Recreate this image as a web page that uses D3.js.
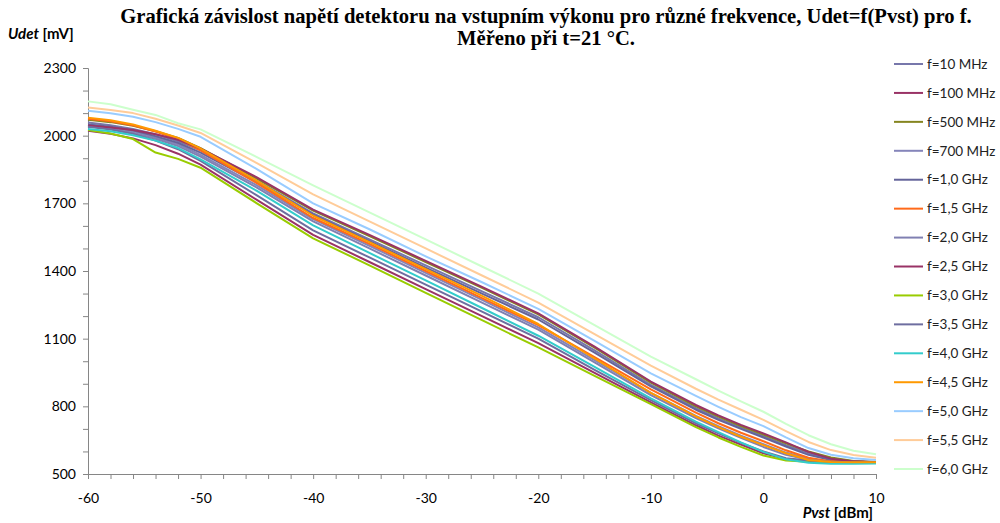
<!DOCTYPE html>
<html><head><meta charset="utf-8">
<script src="https://cdn.jsdelivr.net/npm/d3@7"></script>
<style>body{margin:0;background:#fff}svg{display:block}</style>
</head><body>
<script>
const xValues = [-60,-58,-56,-54,-52,-50,-45,-40,-35,-30,-25,-20,-15,-10,-6,-4,-2,0,2,4,6,8,10];
const seriesNames = ["f=10 MHz","f=100 MHz","f=500 MHz","f=700 MHz","f=1,0 GHz","f=1,5 GHz","f=2,0 GHz","f=2,5 GHz","f=3,0 GHz","f=3,5 GHz","f=4,0 GHz","f=4,5 GHz","f=5,0 GHz","f=5,5 GHz","f=6,0 GHz"];
const seriesColors = ["#7777ab","#993366","#858520","#8585ba","#64649a","#ff6a1a","#8080b2","#993366","#99cc00","#6e6ea0","#33cccc","#ff9900","#99ccff","#ffcc99","#ccffcc"];
const s10M  = [2058,2046,2030,2006,1975,1935,1800,1655,1540,1425,1310,1195,1048,895,792,746,705,668,628,592,566,556,552];
const s100M = [2022,2008,1988,1958,1920,1872,1715,1560,1440,1320,1200,1080,948,818,716,670,630,592,566,556,552,550,550];
const s500M = [2070,2060,2044,2020,1990,1945,1810,1668,1555,1440,1325,1208,1060,905,800,755,712,675,636,600,573,558,553];
const s700M = [2048,2037,2020,1993,1962,1915,1780,1630,1512,1392,1272,1150,1005,860,758,712,670,632,595,568,556,552,551];
const s1G0  = [2050,2040,2024,1998,1968,1925,1793,1650,1532,1415,1300,1185,1038,888,785,740,700,662,622,585,562,554,552];
const s1G5  = [2075,2064,2046,2018,1985,1935,1790,1635,1520,1400,1280,1160,1018,875,772,725,683,645,605,572,556,553,552];
const s2G0  = [2042,2031,2013,1986,1954,1907,1770,1620,1500,1380,1260,1140,995,850,748,702,660,620,585,563,553,551,550];
const s2G5  = [2045,2036,2025,2006,1982,1943,1815,1672,1560,1445,1330,1212,1065,910,806,760,718,680,640,598,568,556,553];
const s3G0  = [2025,2010,1985,1925,1897,1858,1700,1545,1425,1303,1182,1061,935,810,708,662,620,582,560,554,551,550,550];
const s3G5  = [2040,2027,2008,1978,1940,1888,1735,1580,1460,1340,1220,1100,962,828,725,680,638,600,570,560,553,551,550];
const s4G0  = [2030,2020,2002,1978,1945,1895,1755,1602,1480,1358,1236,1113,975,835,732,686,640,598,565,550,545,545,546];
const s4G5  = [2080,2068,2050,2022,1990,1943,1800,1645,1528,1408,1290,1165,1012,860,755,708,665,628,592,562,553,552,552];
const s5G0  = [2110,2099,2084,2060,2030,1995,1852,1700,1585,1465,1350,1232,1090,946,846,798,752,712,662,615,585,570,562];
const s5G5  = [2125,2114,2100,2075,2045,2012,1878,1740,1620,1500,1380,1260,1120,980,878,830,785,740,690,642,606,584,572];
const s6G0  = [2152,2139,2115,2092,2055,2028,1905,1780,1660,1540,1420,1300,1160,1020,920,870,822,776,722,672,632,603,588];
const seriesValues = [s10M,s100M,s500M,s700M,s1G0,s1G5,s2G0,s2G5,s3G0,s3G5,s4G0,s4G5,s5G0,s5G5,s6G0];
const yTicks = [500,800,1100,1400,1700,2000,2300];
const xTicks = [-60,-50,-40,-30,-20,-10,0,10];
const titleLines = ["Grafická závislost napětí detektoru na vstupním výkonu pro různé frekvence, Udet=f(Pvst) pro f.","Měřeno při t=21 °C."];

const W=1000,H=523;
const svg=d3.select("body").append("svg").attr("width",W).attr("height",H);
const x=d3.scaleLinear().domain([-60,10]).range([88,876]);
const y=d3.scaleLinear().domain([500,2300]).range([474,68]);
const axisColor="#868686";
const sans="Lato, 'Open Sans', sans-serif";

// title
svg.append("g").selectAll("text").data(titleLines).join("text")
  .attr("x",546).attr("y",(d,i)=>23+i*22).attr("text-anchor","middle")
  .attr("font-family","'Liberation Serif', serif").attr("font-weight","bold").attr("font-size",20.6)
  .attr("fill","#000").text(d=>d);

// axes
const yAxis=d3.axisLeft(y).tickValues(d3.range(500,2301,100)).tickSize(5).tickFormat(d=>yTicks.includes(d)?d:"");
const gy=svg.append("g").attr("transform","translate(88,0)").call(yAxis);
const xAxis=d3.axisBottom(x).tickValues(d3.range(-60,11,2)).tickSize(5).tickFormat(d=>xTicks.includes(d)?d:"");
const gx=svg.append("g").attr("transform","translate(0,474)").call(xAxis);
[gx,gy].forEach(g=>{
  g.select(".domain").attr("stroke",axisColor);
  g.selectAll(".tick line").attr("stroke",axisColor);
  g.selectAll(".tick text").attr("font-family",sans).attr("font-size",14).attr("fill","#000");
});
gy.selectAll(".tick text").attr("x",-12);
gx.selectAll(".tick text").attr("y",19);

// lines
const line=d3.line().x((d,i)=>x(xValues[i])).y(d=>y(d));
svg.append("g").selectAll("path").data(seriesValues).join("path")
  .attr("d",line).attr("fill","none").attr("stroke",(d,i)=>seriesColors[i])
  .attr("stroke-width",2).attr("stroke-linejoin","round");

// axis titles
const yt=svg.append("text").attr("x",8).attr("y",39).attr("font-family",sans).attr("font-size",15).attr("font-weight","bold").attr("fill","#000");
yt.append("tspan").attr("font-style","italic").text("Udet");
yt.append("tspan").text(" [mV]");
const xt=svg.append("text").attr("x",873).attr("y",518).attr("text-anchor","end").attr("font-family",sans).attr("font-size",15).attr("font-weight","bold").attr("fill","#000");
xt.append("tspan").attr("font-style","italic").text("Pvst");
xt.append("tspan").text(" [dBm]");

// legend
const lg=svg.append("g").selectAll("g").data(seriesNames).join("g")
  .attr("transform",(d,i)=>`translate(894,${64+i*28.93})`);
lg.append("line").attr("x1",0).attr("x2",29).attr("stroke",(d,i)=>seriesColors[i]).attr("stroke-width",2);
lg.append("text").attr("x",33).attr("dy","0.35em").attr("font-family",sans).attr("font-size",13.5).attr("fill","#222").text(d=>d);
</script>
</body></html>
